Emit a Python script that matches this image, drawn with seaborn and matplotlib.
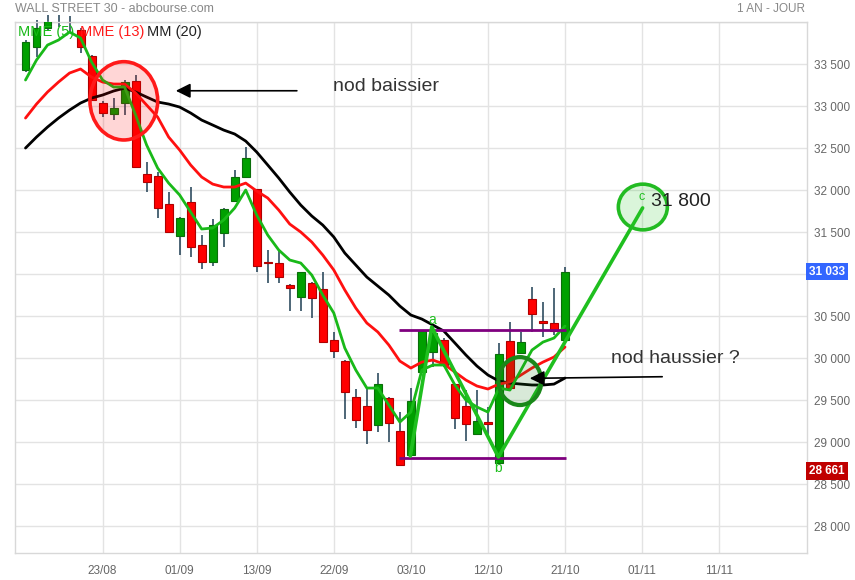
import numpy as np
import seaborn as sns
import matplotlib.pyplot as plt
from matplotlib.patches import Ellipse

# Données (WALL STREET 30, bougies journalières)
opens = [33432, 33709, 33932, 34080, 34060, 33908, 33599, 33036, 32908, 33036,
         33301, 32190, 32170, 31836, 31459, 31857, 31348, 31150, 31488, 31876,
         32161, 32011, 31146, 31130, 30872, 30726, 30893, 30821, 30214, 29967,
         29542, 29428, 29206, 29523, 29131, 28854, 29833, 30078, 30217, 29690,
         29432, 29095, 29238, 28757, 30205, 30059, 30705, 30444, 30423, 30217]
highs = [33789, 34027, 34090, 34085, 34075, 33932, 33610, 33063, 33095, 33313,
         33373, 32333, 32214, 31976, 31685, 32042, 31467, 31658, 31785, 32241,
         32515, 32021, 31289, 31289, 30884, 31027, 30908, 31024, 30309, 29979,
         29634, 29650, 29821, 29539, 29360, 29650, 30337, 30390, 30241, 29693,
         29622, 29622, 29420, 30185, 30428, 30316, 30852, 30673, 30833, 31083]
lows = [33411, 33590, 33896, 33947, 33872, 33638, 33069, 32876, 32837, 32896,
        32277, 31983, 31666, 31491, 31229, 31202, 31063, 31098, 31328, 31872,
        32158, 31030, 30902, 30900, 30566, 30566, 30483, 30182, 30007, 29273,
        29176, 28976, 29126, 29007, 28715, 28848, 29824, 29899, 29896, 29154,
        29015, 29093, 29080, 28753, 29634, 30051, 30316, 30250, 30277, 30205]
closes = [33761, 33928, 34063, 34040, 34020, 33709, 33075, 32917, 32976, 33293,
          32281, 32102, 31792, 31507, 31666, 31321, 31150, 31586, 31773, 32161,
          32380, 31102, 31140, 30962, 30833, 31024, 30714, 30190, 30087, 29595,
          29265, 29146, 29690, 29226, 28725, 29495, 30328, 30300, 29920, 29292,
          29214, 29253, 29214, 30047, 29642, 30190, 30523, 30423, 30328, 31033]

mme5 = [33313, 33551, 33729, 33789, 33884, 33813, 33527, 33313, 33229, 33229,
        32896, 32539, 32265, 32086, 31944, 31741, 31539, 31551, 31646, 31789,
        32003, 31705, 31467, 31289, 31170, 31134, 30991, 30753, 30539, 30122,
        29860, 29646, 29646, 29443, 29241, 29360, 29860, 29920, 29920, 29682,
        29503, 29420, 29360, 29646, 29622, 29860, 30098, 30193, 30241, 30384]
mme13 = [32860, 33027, 33170, 33289, 33396, 33444, 33348, 33289, 33265, 33265,
         33158, 33015, 32872, 32634, 32479, 32301, 32158, 32074, 32039, 32039,
         32086, 31991, 31908, 31765, 31598, 31503, 31384, 31229, 31051, 30813,
         30598, 30420, 30313, 30158, 29967, 29884, 29955, 29979, 29932, 29836,
         29741, 29670, 29634, 29693, 29717, 29801, 29884, 29955, 30015, 30134]
mm20 = [32503, 32634, 32753, 32860, 32955, 33039, 33098, 33134, 33182, 33217,
        33170, 33110, 33051, 33027, 32991, 32920, 32836, 32777, 32717, 32670,
        32586, 32455, 32301, 32146, 31979, 31824, 31694, 31586, 31444, 31253,
        31110, 30967, 30860, 30753, 30622, 30515, 30467, 30396, 30324, 30182,
        30039, 29908, 29801, 29729, 29705, 29693, 29682, 29682, 29693, 29765]

date_pos = [7, 14, 21, 28, 35, 42, 49, 56, 63]
date_labels = ['23/08', '01/09', '13/09', '22/09', '03/10', '12/10', '21/10', '01/11', '11/11']

# vague a-b-c tracée à la main
wave_x = [34.95, 36.9, 42.95, 56.05]
wave_y = [28836, 30372, 28825, 31790]
res_haut = 30336
sup_bas = 28813

idx = np.arange(len(closes))

sns.set_theme(style='white')
plt.rcParams['font.family'] = ['Liberation Sans', 'DejaVu Sans']

fig = plt.figure(figsize=(8.55, 5.8), dpi=100)
ax = fig.add_axes([15 / 855, 1 - 553 / 580, (807 - 15) / 855, (553 - 22.3) / 580])
ylo, yhi = 27682, 34000
xlo, xhi = -0.954, 70.98
ax.set_xlim(xlo, xhi)
ax.set_ylim(ylo, yhi)

# grille
grid_c = '#e3e3e3'
ax.hlines(np.arange(28000, 34001, 500), xlo, xhi, color=grid_c, lw=1, zorder=0)
ax.vlines(date_pos, ylo, yhi, color=grid_c, lw=1, zorder=0)
for s in ['left', 'right', 'bottom', 'top']:
    ax.spines[s].set_color('#d8d8d8')
    ax.spines[s].set_linewidth(1)

# bougies
for i in idx:
    o, h, l, c = opens[i], highs[i], lows[i], closes[i]
    ax.vlines(i, l, h, color='#1d3d52', lw=1.1, zorder=2, clip_on=False)
    up = c >= o
    fc = '#00a000' if up else '#ff0000'
    ec = '#0a6e0a' if up else '#b00000'
    hgt = max(abs(c - o), 12)
    ax.bar(i, hgt, bottom=min(o, c), width=0.72, color=fc, edgecolor=ec,
           linewidth=0.8, zorder=3)

# moyennes mobiles
sns.lineplot(x=idx, y=mm20, ax=ax, color='black', linewidth=2, zorder=4)
sns.lineplot(x=idx, y=mme13, ax=ax, color='#ff1010', linewidth=2, zorder=4)
sns.lineplot(x=idx, y=mme5, ax=ax, color='#19b919', linewidth=2, zorder=4)

# annotations
ax.hlines([res_haut], 33.95, 49.1, color='#7f007f', lw=2, zorder=5)
ax.hlines([sup_bas], 33.95, 49.1, color='#7f007f', lw=2, zorder=5)
ax.plot(wave_x, wave_y, color='#1fbf1f', lw=2.6, zorder=6, solid_capstyle='round')

ax.add_patch(Ellipse((8.93, 33065), 6.15, 932, facecolor=(1, 0, 0, 0.16),
                     edgecolor='#ff1a1a', lw=2.6, zorder=7))
ax.add_patch(Ellipse((44.9, 29729), 3.9, 571, facecolor=(0.1, 0.5, 0.1, 0.17),
                     edgecolor='#1a881a', lw=3, zorder=7))
ax.add_patch(Ellipse((56.07, 31801), 4.45, 544, facecolor=(0.2, 0.8, 0.2, 0.18),
                     edgecolor='#22bb22', lw=2.6, zorder=7))

ax.annotate('', xy=(13.4, 33185), xytext=(24.9, 33185),
            arrowprops=dict(arrowstyle='-|>', color='black', lw=1.2, mutation_scale=22),
            zorder=8)
ax.annotate('', xy=(45.55, 29761), xytext=(58.08, 29781),
            arrowprops=dict(arrowstyle='-|>', color='black', lw=1.2, mutation_scale=22),
            zorder=8)

txt_c = '#333333'
ax.text(27.9, 33241, 'nod baissier', fontsize=14, color=txt_c, va='center', zorder=9)
ax.text(53.2, 30003, 'nod haussier ?', fontsize=14, color=txt_c, va='center', zorder=9)
ax.text(56.8, 31872, '31 800', fontsize=14, color='#222222', va='center', zorder=9)
ax.text(36.9, 30456, 'a', fontsize=10, color='#1fbf1f', ha='center', va='center', zorder=9)
ax.text(42.9, 28694, 'b', fontsize=10, color='#1fbf1f', ha='center', va='center', zorder=9)
ax.text(56.0, 31920, 'c', fontsize=9, color='#1fbf1f', ha='center', va='center', zorder=9)

# légende
ax.text(-0.68, 33884, 'MME (5)', fontsize=10.5, color='#19b919', va='center', zorder=9)
ax.text(4.95, 33884, 'MME (13)', fontsize=10.5, color='#ff1a1a', va='center', zorder=9)
ax.text(11.04, 33884, 'MM (20)', fontsize=10.5, color='#222222', va='center', zorder=9)

# axes (le 31 000 est caché par l'étiquette du dernier cours)
yt = np.arange(28000, 33501, 500)
ax.set_yticks(yt)
ax.set_yticklabels(['' if v == 31000 else f'{v:,}'.replace(',', ' ') for v in yt])
ax.yaxis.tick_right()
ax.tick_params(axis='y', length=0, pad=5, labelsize=8.5, labelcolor='#666666')
ax.set_xticks(date_pos)
ax.set_xticklabels(date_labels)
ax.tick_params(axis='x', length=0, pad=9, labelsize=8.5, labelcolor='#666666')

tr = ax.get_yaxis_transform()
ax.text(1.003, 31033, '31 033', transform=tr, fontsize=8.5, color='white', weight='bold',
        va='center', ha='left', zorder=10,
        bbox=dict(boxstyle='square,pad=0.25', fc='#3366ff', ec='none'))
ax.text(1.003, 28661, '28 661', transform=tr, fontsize=8.5, color='white', weight='bold',
        va='center', ha='left', zorder=10,
        bbox=dict(boxstyle='square,pad=0.25', fc='#c00000', ec='none'))

fig.text(15 / 855, 1 - 9 / 580, 'WALL STREET 30 - abcbourse.com', fontsize=9,
         color='#888888', va='center', ha='left')
fig.text(805 / 855, 1 - 9 / 580, '1 AN - JOUR', fontsize=8.5,
         color='#888888', va='center', ha='right')

fig.savefig('out.png', dpi=100)
